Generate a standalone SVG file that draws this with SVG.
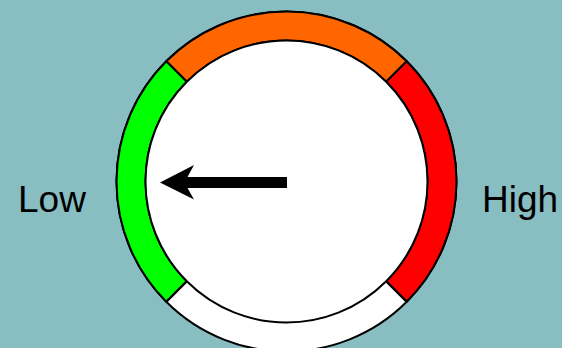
<svg xmlns="http://www.w3.org/2000/svg" width="562" height="348" viewBox="0 0 562 348">
<style>
.seg{stroke:#000;stroke-width:2;stroke-linejoin:round}
.lbl{font-family:"Liberation Sans",Arial,sans-serif;font-size:37px;fill:#000}
</style>
<rect width="562" height="348" fill="#88BEC2"/>
<g id="gauge">
<circle cx="286.5" cy="181.5" r="170" fill="#fff" stroke="#000" stroke-width="2"/>
<path id="seg-orange" class="seg" fill="#FF6600" d="M166.3,61.3 A170,170 0 0 1 406.7,61.3 L386.2,81.8 A141,141 0 0 0 186.8,81.8 Z"/>
<path id="seg-green" class="seg" fill="#00FF00" d="M166.3,301.7 A170,170 0 0 1 166.3,61.3 L186.8,81.8 A141,141 0 0 0 186.8,281.2 Z"/>
<path id="seg-red" class="seg" fill="#FF0000" d="M406.7,61.3 A170,170 0 0 1 406.7,301.7 L386.2,281.2 A141,141 0 0 0 386.2,81.8 Z"/>
<line class="seg" x1="166.3" y1="301.7" x2="186.8" y2="281.2"/>
<line class="seg" x1="406.7" y1="301.7" x2="386.2" y2="281.2"/>
<circle cx="286.5" cy="181.5" r="141" fill="#fff" stroke="#000" stroke-width="2"/>
</g>
<g id="needle">
<polygon fill="#000" points="160,182.5 194,165 187.5,177 287,177 287,188 187.5,188 194,199.5"/>
</g>
<g id="label-low"><text class="lbl" x="18" y="212">Low</text></g>
<g id="label-high"><text class="lbl" x="482" y="212">High</text></g>
</svg>
